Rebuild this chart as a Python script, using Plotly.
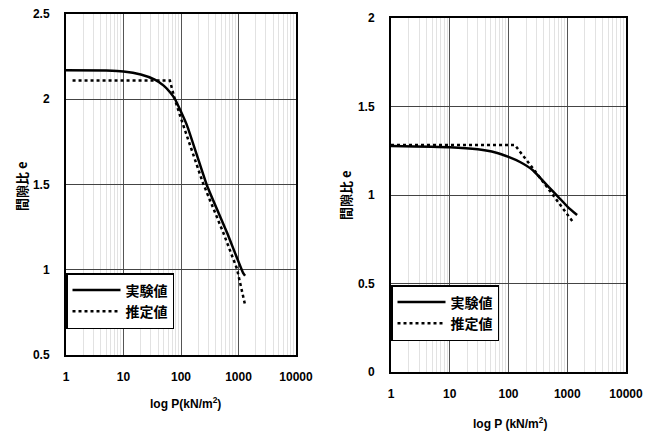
import plotly.graph_objects as go

# Left panel data
P_exp_L = [1, 5, 10, 20, 35, 50, 65, 79, 127, 283, 630, 1200, 1300]
e_exp_L = [2.17, 2.168, 2.163, 2.145, 2.115, 2.08, 2.04, 2.0, 1.847, 1.494, 1.218, 0.982, 0.965]
P_est_L = [1.3, 64, 78, 104, 240, 540, 940, 1200, 1300]
e_est_L = [2.11, 2.11, 2.0, 1.87, 1.51, 1.22, 1.006, 0.847, 0.794]

# Right panel data
P_exp_R = [1, 10, 30, 60, 100, 160, 260, 450, 700, 1025, 1470]
e_exp_R = [1.277, 1.27, 1.258, 1.24, 1.215, 1.185, 1.14, 1.056, 0.99, 0.932, 0.887]
P_est_R = [1, 129, 158, 205, 250, 452, 695, 1025, 1255]
e_est_R = [1.282, 1.282, 1.243, 1.198, 1.158, 1.045, 0.96, 0.887, 0.847]

x_ticks = [1, 10, 100, 1000, 10000]
x_ticktext = ["1", "10", "100", "1000", "10000"]
x_minor = [m * 10 ** k for k in range(4) for m in range(2, 10)]
yL_ticks = [0.5, 1, 1.5, 2, 2.5]
yL_text = ["0.5", "1", "1.5", "2", "2.5"]
yR_ticks = [0, 0.5, 1, 1.5, 2]
yR_text = ["0", "0.5", "1", "1.5", "2"]

name_exp = "実験値"
name_est = "推定値"

W, H = 661, 436
FONT = "Liberation Sans"
JFONT = "Noto Sans CJK JP"

fig = go.Figure()
fig.add_trace(go.Scatter(x=P_exp_L, y=e_exp_L, mode="lines", name=name_exp,
                         line=dict(color="black", width=2.5, shape="spline", smoothing=0.4),
                         xaxis="x", yaxis="y", legend="legend"))
fig.add_trace(go.Scatter(x=P_est_L, y=e_est_L, mode="lines", name=name_est,
                         line=dict(color="black", width=2.5, dash="dot"),
                         xaxis="x", yaxis="y", legend="legend"))
fig.add_trace(go.Scatter(x=P_exp_R, y=e_exp_R, mode="lines", name=name_exp,
                         line=dict(color="black", width=2.5, shape="spline", smoothing=0.4),
                         xaxis="x2", yaxis="y2", legend="legend2"))
fig.add_trace(go.Scatter(x=P_est_R, y=e_est_R, mode="lines", name=name_est,
                         line=dict(color="black", width=2.5, dash="dot"),
                         xaxis="x2", yaxis="y2", legend="legend2"))

def px_x(p):
    return p / W

def px_y(p):
    return 1 - p / H

xcommon = dict(type="log", range=[0, 4], tickvals=x_ticks, ticktext=x_ticktext,
               showline=True, linecolor="black", linewidth=2, mirror=True,
               showgrid=True, gridcolor="#555", gridwidth=1, zeroline=False,
               ticks="", ticklabelstandoff=10, automargin=False,
               tickfont=dict(family=FONT, size=12, color="black", weight="bold"),
               minor=dict(tickmode="array", tickvals=x_minor, showgrid=True,
                          gridcolor="#e2e2e2", gridwidth=1, ticks=""))
ycommon = dict(showline=True, linecolor="black", linewidth=2, mirror=True,
               showgrid=True, gridcolor="#444", gridwidth=1, zeroline=False,
               ticks="", ticklabelstandoff=12, automargin=False,
               tickfont=dict(family=FONT, size=12, color="black", weight="bold"))

fig.update_layout(
    width=W, height=H, margin=dict(l=0, r=0, t=0, b=0, pad=0),
    paper_bgcolor="white", plot_bgcolor="white",
    xaxis=dict(domain=[px_x(66), px_x(296)], anchor="y", **xcommon),
    yaxis=dict(domain=[px_y(355), px_y(14)], anchor="x", range=[0.5, 2.5],
               tickvals=yL_ticks, ticktext=yL_text, **ycommon),
    xaxis2=dict(domain=[px_x(391), px_x(626)], anchor="y2", **xcommon),
    yaxis2=dict(domain=[px_y(372), px_y(18)], anchor="x2", range=[0, 2],
                tickvals=yR_ticks, ticktext=yR_text, **ycommon),
    legend=dict(x=px_x(66), y=px_y(273), xanchor="left", yanchor="top",
                bgcolor="white", bordercolor="black", borderwidth=1.5,
                font=dict(family=JFONT, size=14, color="black", weight="bold"),
                itemwidth=48, tracegroupgap=0),
    legend2=dict(x=px_x(391), y=px_y(285), xanchor="left", yanchor="top",
                 bgcolor="white", bordercolor="black", borderwidth=1.5,
                 font=dict(family=JFONT, size=14, color="black", weight="bold"),
                 itemwidth=48, tracegroupgap=0),
    showlegend=True,
)

ann = [
    dict(text="log P(kN/m<sup>2</sup>)", x=px_x(185), y=px_y(403)),
    dict(text="log P (kN/m<sup>2</sup>)", x=px_x(510), y=px_y(423)),
]
for a in ann:
    fig.add_annotation(text=a["text"], x=a["x"], y=a["y"], xref="paper", yref="paper",
                       showarrow=False, xanchor="center", yanchor="middle",
                       font=dict(family=FONT, size=12, color="black", weight="bold"))
for xp, yp in [(21, 186), (345, 195)]:
    fig.add_annotation(text="間隙比 e", x=px_x(xp), y=px_y(yp), xref="paper", yref="paper",
                       showarrow=False, textangle=-90, xanchor="center", yanchor="middle",
                       font=dict(family=JFONT, size=13, color="black", weight="bold"))

fig.write_html("out.html",
               post_script="document.body.style.margin='0';document.body.style.overflow='hidden';")
